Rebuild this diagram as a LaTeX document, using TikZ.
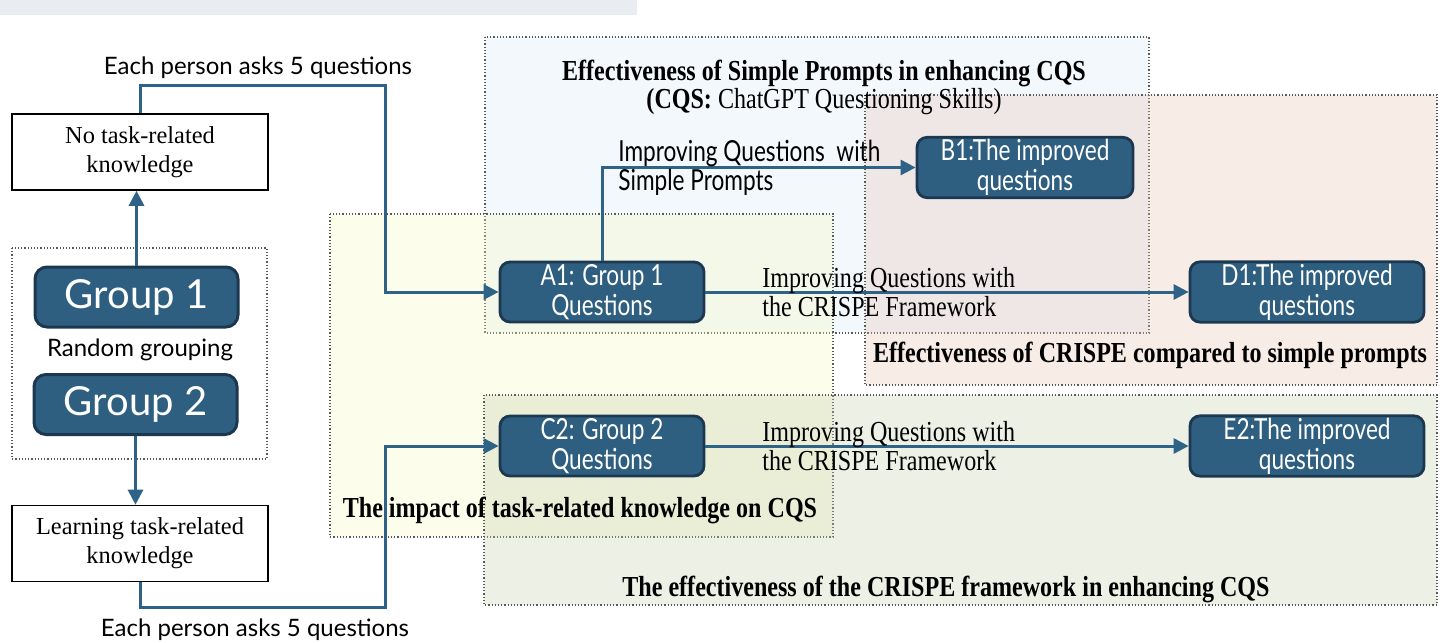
\documentclass[tikz,border=0pt]{standalone}
\usepackage{fontspec}
\setmainfont{Liberation Serif}
\setsansfont{Lato}
\newfontfamily\narrowsans[FakeStretch=0.78]{Lato}
\newfontfamily\narrowserif[FakeStretch=0.83]{Liberation Serif}
\usetikzlibrary{positioning, arrows.meta}
\definecolor{boxblue}{HTML}{2F5F80}
\definecolor{boxedge}{HTML}{1C3850}
\definecolor{flowblue}{HTML}{2E6387}
\definecolor{topbar}{HTML}{E9EDF2}
\definecolor{regionblue}{HTML}{D6E9FA}
\definecolor{regionred}{HTML}{E8C0B0}
\definecolor{regionyellow}{HTML}{F8F8BC}
\definecolor{regiongreen}{HTML}{C0CCAA}

\begin{document}
\begin{tikzpicture}[x=0.5pt, y=-0.5pt, >={Triangle[length=7.5pt, width=7.5pt]}]
    \tikzset{
        plainbox/.style={draw=black, line width=0.8pt, fill=white, minimum width=128pt, minimum height=38pt, align=center, font=\fontsize{12.2}{14.5}\selectfont},
        groupbox/.style={draw=boxedge, line width=1.5pt, fill=boxblue, rounded corners=6pt, text=white, minimum width=101.5pt, minimum height=30pt, font=\sffamily\fontsize{20}{22}\selectfont},
        qbox/.style={draw=boxedge, line width=1.4pt, fill=boxblue, rounded corners=5pt, text=white, minimum height=30pt, inner sep=1pt, align=center, font=\narrowsans\fontsize{14.5}{15}\selectfont},
        flow/.style={->, draw=flowblue, line width=1.5pt},
        region/.style={draw=black!65, densely dotted, line width=0.6pt, fill opacity=0.3},
        regiontitle/.style={align=center, font=\narrowserif\bfseries\fontsize{14.5}{14}\selectfont},
        steplabel/.style={anchor=west, align=left, inner sep=0pt},
        asklabel/.style={font=\sffamily\fontsize{12}{14}\selectfont}
    }
    \useasboundingbox (0,0) rectangle (1443,642);
    \fill[topbar] (0,0) rectangle (637,15);

    \draw[region, fill=regionblue]   (485,37)  rectangle (1149,333);
    \draw[region, fill=regionred]    (865,95)  rectangle (1437,385);
    \draw[region, fill=regionyellow] (330,214) rectangle (833,537);
    \draw[region, fill=regiongreen]  (484,395) rectangle (1437,605);

    \node[regiontitle] (simpletitle) at (824,87) {Effectiveness of Simple Prompts in enhancing CQS\\(CQS: {\mdseries ChatGPT Questioning Skills)}};
    \node[regiontitle] (comparetitle) at (1150,355) {Effectiveness of CRISPE compared to simple prompts};
    \node[regiontitle] (knowledgetitle) at (580,510) {The impact of task-related knowledge on CQS};
    \node[regiontitle] (crispetitle) at (946,589) {The effectiveness of the CRISPE framework in enhancing CQS};

    \draw[black!65, densely dotted, line width=0.6pt] (12,248) rectangle (267,459);
    \node[plainbox] (notask)   at (140,152)   {No task-related\\knowledge};
    \node[plainbox] (learning) at (140,543.5) {Learning task-related\\knowledge};
    \node[groupbox] (group1)   at (136.5,297) {Group 1};
    \node[groupbox] (group2)   at (135.5,404.5) {Group 2};
    \node[asklabel] (grouping) at (140,350)   {Random grouping};

    \node[qbox, minimum width=102pt] (a1) at (602,292)    {A1: Group 1\\Questions};
    \node[qbox, minimum width=108pt] (b1) at (1025,167.5) {B1:The improved\\questions};
    \node[qbox, minimum width=117pt] (d1) at (1307,292)   {D1:The improved\\questions};
    \node[qbox, minimum width=102pt] (c2) at (602,446)    {C2: Group 2\\Questions};
    \node[qbox, minimum width=117pt] (e2) at (1307,446)   {E2:The improved\\questions};

    \coordinate (upturn)   at (385,86);
    \coordinate (downturn) at (385,607);

    \draw[flow] (group1.north) -- (group1.north |- notask.south);
    \draw[flow] (group2.south) -- (group2.south |- learning.north);
    \draw[flow] (notask.north) |- (upturn) |- (a1.west);
    \draw[flow] (learning.south) |- (downturn) |- (c2.west);
    \draw[flow] (a1.north) |- (b1.west);
    \draw[flow] (a1.east) -- (d1.west);
    \draw[flow] (c2.east) -- (e2.west);

    \node[asklabel] (asktop)    at (258,68)  {Each person asks 5 questions};
    \node[asklabel] (askbottom) at (255,630) {Each person asks 5 questions};
    \node[steplabel, font=\narrowsans\fontsize{14.5}{14.5}\selectfont] (simplestep) at (618,167.5) {Improving Questions\ \ with\\Simple Prompts};
    \node[steplabel, font=\narrowserif\fontsize{14.5}{14.5}\selectfont] (crispestep1) at (762,292) {Improving Questions with\\the CRISPE Framework};
    \node[steplabel, font=\narrowserif\fontsize{14.5}{14.5}\selectfont] (crispestep2) at (762,446) {Improving Questions with\\the CRISPE Framework};
\end{tikzpicture}
\end{document}
